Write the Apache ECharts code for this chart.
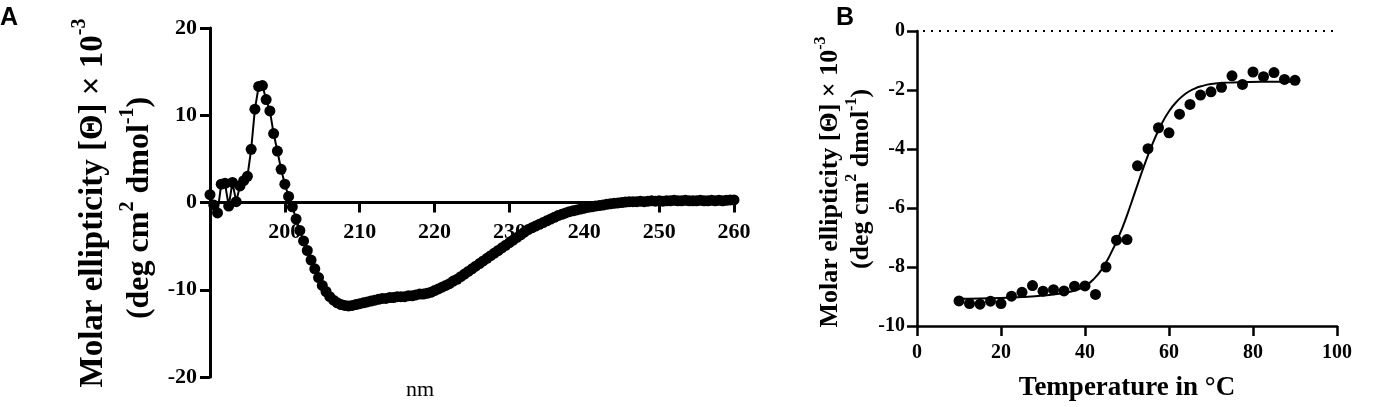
<!DOCTYPE html>
<html>
<head>
<meta charset="utf-8">
<script src="https://cdn.jsdelivr.net/npm/echarts@6/dist/echarts.min.js"></script>
<style>
	html, body { margin: 0; padding: 0; background: #fff; }
	#chart { width: 1381px; height: 407px; }
</style>
</head>
<body>
<div id="chart"></div>
<script>
// Panel A: CD spectrum, wavelength (nm) vs molar ellipticity (x10^-3)
var wavelengths = [
	190, 190.5, 191, 191.5, 192, 192.5, 193, 193.5, 194, 194.5,
	195, 195.5, 196, 196.5, 197, 197.5, 198, 198.5, 199, 199.5,
	200, 200.5, 201, 201.5, 202, 202.5, 203, 203.5, 204, 204.5,
	205, 205.5, 206, 206.5, 207, 207.5, 208, 208.5, 209, 209.5,
	210, 210.5, 211, 211.5, 212, 212.5, 213, 213.5, 214, 214.5,
	215, 215.5, 216, 216.5, 217, 217.5, 218, 218.5, 219, 219.5,
	220, 220.5, 221, 221.5, 222, 222.5, 223, 223.5, 224, 224.5,
	225, 225.5, 226, 226.5, 227, 227.5, 228, 228.5, 229, 229.5,
	230, 230.5, 231, 231.5, 232, 232.5, 233, 233.5, 234, 234.5,
	235, 235.5, 236, 236.5, 237, 237.5, 238, 238.5, 239, 239.5,
	240, 240.5, 241, 241.5, 242, 242.5, 243, 243.5, 244, 244.5,
	245, 245.5, 246, 246.5, 247, 247.5, 248, 248.5, 249, 249.5,
	250, 250.5, 251, 251.5, 252, 252.5, 253, 253.5, 254, 254.5,
	255, 255.5, 256, 256.5, 257, 257.5, 258, 258.5, 259, 259.5,
	260
];
var ellipticity = [
	0.9, -0.3, -1.2, 2.1, 2.2, -0.4, 2.3, 0.1, 1.9, 2.5,
	3.0, 6.1, 10.7, 13.3, 13.4, 11.8, 10.5, 7.9, 5.9, 3.8,
	2.1, 0.7, -0.5, -1.9, -3.2, -4.4, -5.5, -6.6, -7.6, -8.6,
	-9.5, -10.2, -10.8, -11.2, -11.5, -11.7, -11.8, -11.85, -11.8, -11.7,
	-11.6, -11.5, -11.4, -11.3, -11.2, -11.1, -11.0, -11.0, -10.9, -10.9,
	-10.8, -10.8, -10.8, -10.7, -10.7, -10.6, -10.5, -10.5, -10.4, -10.3,
	-10.1, -9.9, -9.7, -9.5, -9.3, -9.0, -8.8, -8.5, -8.2, -7.9,
	-7.6, -7.3, -7.0, -6.7, -6.4, -6.1, -5.8, -5.5, -5.2, -4.9,
	-4.6, -4.3, -4.0, -3.7, -3.4, -3.1, -2.9, -2.7, -2.5, -2.3,
	-2.1, -1.9, -1.7, -1.5, -1.35, -1.2, -1.05, -0.95, -0.85, -0.75,
	-0.65, -0.55, -0.5, -0.4, -0.35, -0.3, -0.2, -0.15, -0.1, -0.05,
	0.0, 0.05, 0.1, 0.1, 0.1, 0.15, 0.1, 0.15, 0.2, 0.15,
	0.2, 0.15, 0.2, 0.2, 0.25, 0.2, 0.2, 0.25, 0.2, 0.2,
	0.2, 0.25, 0.2, 0.2, 0.25, 0.2, 0.25, 0.2, 0.25, 0.3,
	0.3
];

// Panel B: thermal melt, temperature vs ellipticity
var temps = [10, 12.5, 15, 17.5, 20, 22.5, 25, 27.5, 30, 32.5, 35, 37.5, 40, 42.5, 45, 47.5, 50,
	52.5, 55, 57.5, 60, 62.5, 65, 67.5, 70, 72.5, 75, 77.5, 80, 82.5, 85, 87.5, 90];
var meltValues = [-9.15, -9.24, -9.26, -9.16, -9.24, -8.99, -8.86, -8.63, -8.82, -8.77, -8.81, -8.65, -8.64, -8.93, -8.0, -7.09, -7.07,
	-4.57, -3.99, -3.28, -3.45, -2.82, -2.49, -2.17, -2.06, -1.91, -1.52, -1.81, -1.39, -1.55, -1.41, -1.64, -1.67];
var fitTemps = [10, 15, 20, 25, 30, 35, 38, 40, 42, 44, 46, 48, 50, 52, 54, 56, 58, 60, 62, 64, 66, 68, 70, 74, 78, 82, 86, 90];
var fitValues = [-9.08, -9.07, -9.05, -9.02, -8.97, -8.88, -8.78, -8.65, -8.42, -8.08, -7.58, -6.98, -6.25, -5.42, -4.6, -3.85,
	-3.22, -2.72, -2.37, -2.12, -1.96, -1.86, -1.8, -1.75, -1.73, -1.72, -1.72, -1.72];

var xTicksA = [190, 260, 10];
var yTicksA = [-20, 20, 10];
var xTicksB = [0, 100, 20];
var yTicksB = [-10, 0, 2];

var serif = '"Liberation Serif", "Times New Roman", serif';

function zip(xs, ys) {
	var out = [];
	for (var i = 0; i < xs.length; i++) out.push([xs[i], ys[i]]);
	return out;
}

function axisStyle(fs, w) {
	return {
		axisLine: { show: true, onZero: false, lineStyle: { color: '#000', width: w } },
		axisTick: { show: true, length: 10, lineStyle: { color: '#000', width: w } },
		splitLine: { show: false },
		axisLabel: { color: '#000', fontFamily: serif, fontWeight: 'bold', fontSize: fs }
	};
}

// x axis of panel A sits on the zero line: shift it up by half the plot height
var xA = axisStyle(22, 3);
xA.gridIndex = 0; xA.type = 'value'; xA.position = 'bottom'; xA.offset = -174.5;
xA.min = xTicksA[0]; xA.max = xTicksA[1]; xA.interval = xTicksA[2];
xA.axisLabel.margin = 19;
xA.axisLabel.formatter = function(v) { return v === 190 ? '' : v; };

var yA = axisStyle(22, 3);
yA.gridIndex = 0; yA.type = 'value';
yA.min = yTicksA[0]; yA.max = yTicksA[1]; yA.interval = yTicksA[2];
yA.axisLabel.margin = 13;

var xB = axisStyle(20, 2.5);
xB.gridIndex = 1; xB.type = 'value';
xB.min = xTicksB[0]; xB.max = xTicksB[1]; xB.interval = xTicksB[2];
xB.axisLabel.margin = 17;

var yB = axisStyle(20, 2.5);
yB.gridIndex = 1; yB.type = 'value';
yB.min = yTicksB[0]; yB.max = yTicksB[1]; yB.interval = yTicksB[2];
yB.axisLabel.margin = 12;

function rotText(x, y, text, size, sup, weight) {
	return {
		type: 'text', x: x, y: y, rotation: Math.PI / 2,
		style: {
			text: text, fill: '#000', align: 'center', verticalAlign: 'middle',
			rich: {
				m: { fontFamily: serif, fontWeight: weight || 'bold', fontSize: size, lineHeight: size * 1.2, verticalAlign: 'bottom' },
				s: { fontFamily: serif, fontWeight: weight || 'bold', fontSize: sup, lineHeight: size * 1.2, verticalAlign: 'top' }
			}
		}
	};
}

var line1 = '{m|Molar ellipticity [Θ] × 10}{s|-3}';
var line2 = '{m|(deg cm}{s|2}{m| dmol}{s|-1}{m|)}';

var option = {
	animation: false,
	grid: [
		{ left: 210, top: 28, width: 524, height: 349, outerBoundsMode: 'none', containLabel: false },
		{ left: 917, top: 31, width: 420, height: 295, outerBoundsMode: 'none', containLabel: false }
	],
	xAxis: [xA, xB],
	yAxis: [yA, yB],
	graphic: [
		{ type: 'text', left: 0, top: 6, style: { text: 'A', fontFamily: '"Liberation Sans", Arial, sans-serif', fontWeight: 'bold', fontSize: 25, fill: '#000' } },
		{ type: 'text', left: 836, top: 6, style: { text: 'B', fontFamily: '"Liberation Sans", Arial, sans-serif', fontWeight: 'bold', fontSize: 25, fill: '#000' } },
		rotText(90, 203, line1, 33, 20),
		rotText(137, 208, line2, 32, 20),
		rotText(828, 182, line1, 26, 16),
		rotText(859, 179, line2, 26, 16),
		{ type: 'text', x: 420, y: 390, style: { text: 'nm', fontFamily: serif, fontSize: 22, fill: '#000', align: 'center', verticalAlign: 'middle' } },
		{ type: 'text', x: 1127, y: 388, style: { text: 'Temperature in °C', fontFamily: serif, fontWeight: 'bold', fontSize: 27, fill: '#000', align: 'center', verticalAlign: 'middle' } }
	],
	series: [
		{
			type: 'line', xAxisIndex: 0, yAxisIndex: 0,
			data: zip(wavelengths, ellipticity),
			symbol: 'circle', symbolSize: 11, showAllSymbol: true,
			itemStyle: { color: '#000' },
			lineStyle: { color: '#000', width: 2 },
			z: 3
		},
		{
			type: 'line', xAxisIndex: 1, yAxisIndex: 1,
			data: zip(fitTemps, fitValues),
			smooth: true, symbol: 'none',
			lineStyle: { color: '#000', width: 2 },
			markLine: {
				silent: true, symbol: 'none', label: { show: false },
				lineStyle: { color: '#000', width: 2, type: [2, 6], dashOffset: -6 },
				data: [{ yAxis: 0 }]
			}
		},
		{
			type: 'scatter', xAxisIndex: 1, yAxisIndex: 1,
			data: zip(temps, meltValues),
			symbol: 'circle', symbolSize: 11,
			itemStyle: { color: '#000', opacity: 1 }
		}
	]
};

var chart = echarts.init(document.getElementById('chart'));
chart.setOption(option);
</script>
</body>
</html>
